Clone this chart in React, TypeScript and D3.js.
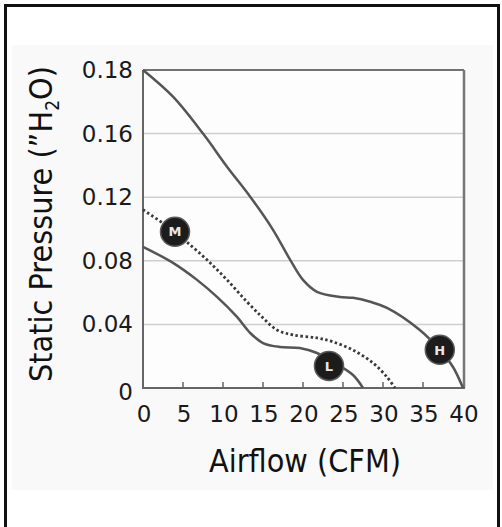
import React, { useEffect, useRef } from 'react';
import * as d3 from 'd3';

// fan curves, airflow (CFM) vs static pressure ("H2O)
const highX = [0, 3.75, 7.5, 10.5, 13.4, 16.25, 18.4, 20, 21.75, 24.6, 26.25, 28.4, 30.5, 34.6, 37.1, 38.75, 40];
const highY = [0.18, 0.1716, 0.16, 0.1392, 0.1203, 0.0995, 0.0806, 0.068, 0.0605, 0.0573, 0.0567, 0.0542, 0.0504, 0.0365, 0.024, 0.0132, 0];

const medX = [0, 4, 5.6, 8, 10.5, 13, 15, 16.75, 18.75, 21.75, 23.75, 26.25, 28.75, 30.5, 31.5];
const medY = [0.1121, 0.0983, 0.0913, 0.0806, 0.068, 0.0542, 0.0441, 0.0365, 0.0334, 0.0315, 0.029, 0.0239, 0.0157, 0.0069, 0];

const lowX = [0, 3.75, 6.75, 9.25, 11.75, 13.4, 15, 17.1, 19.6, 21.75, 23.75, 26.25, 27.5];
const lowY = [0.0888, 0.0787, 0.068, 0.0573, 0.0447, 0.0346, 0.0283, 0.0258, 0.0252, 0.022, 0.0164, 0.0082, 0];

const badgeLabels = ['M', 'L', 'H'];
const badgeX = [4, 23.25, 37.1];
const badgeY = [0.0983, 0.0139, 0.024];

const xTicks = [0, 5, 10, 15, 20, 25, 30, 35, 40];
const yTicks = [0, 0.04, 0.08, 0.12, 0.16, 0.18];
const yTickLabels = ['0', '0.04', '0.08', '0.12', '0.16', '0.18'];

const W = 502;
const H = 527;

export default function App() {
    const svgRef = useRef<SVGSVGElement>(null);

    useEffect(() => {
        const svg = d3.select(svgRef.current);
        svg.selectAll('*').remove();

        const left = 143, right = 463, top = 70, bottom = 388;

        // outer frame + panel
        svg.append('rect')
            .attr('x', 12).attr('y', 45).attr('width', 481).attr('height', 445)
            .attr('fill', '#f9f9f9');
        svg.append('path')
            .attr('d', `M5.5,${H + 5}V5.5H498.5V${H + 5}`)
            .attr('fill', 'none').attr('stroke', '#111').attr('stroke-width', 3);

        const x = d3.scaleLinear().domain([0, 40]).range([left, right]);
        // y ticks are evenly spaced although the last step is only 0.02
        const step = (bottom - top) / (yTicks.length - 1);
        const y = d3.scaleLinear()
            .domain(yTicks)
            .range(yTicks.map((_, i) => bottom - i * step));

        svg.append('rect')
            .attr('x', left).attr('y', top).attr('width', right - left).attr('height', bottom - top)
            .attr('fill', '#fdfdfd');

        // gridlines
        svg.append('g')
            .selectAll('line')
            .data(yTicks.slice(1, -1))
            .join('line')
            .attr('x1', left).attr('x2', right)
            .attr('y1', (d) => y(d)).attr('y2', (d) => y(d))
            .attr('stroke', '#cfcfcf').attr('stroke-width', 1.5);

        // frame
        svg.append('line').attr('x1', left).attr('x2', right + 1).attr('y1', top).attr('y2', top)
            .attr('stroke', '#444').attr('stroke-width', 1.5);
        svg.append('line').attr('x1', right + 1).attr('x2', right + 1).attr('y1', top).attr('y2', bottom)
            .attr('stroke', '#777').attr('stroke-width', 2.5);
        svg.append('line').attr('x1', left).attr('x2', left).attr('y1', top).attr('y2', bottom + 1)
            .attr('stroke', '#666').attr('stroke-width', 2);
        svg.append('line').attr('x1', left).attr('x2', right + 2).attr('y1', bottom).attr('y2', bottom)
            .attr('stroke', '#666').attr('stroke-width', 2);

        // inner ticks on x axis
        svg.append('g')
            .selectAll('line')
            .data(xTicks.slice(1, -1))
            .join('line')
            .attr('x1', (d) => x(d)).attr('x2', (d) => x(d))
            .attr('y1', bottom).attr('y2', bottom - 6)
            .attr('stroke', '#666').attr('stroke-width', 1.5);

        // tick labels
        svg.append('g')
            .selectAll('text')
            .data(xTicks)
            .join('text')
            .attr('x', (d) => x(d) + 1)
            .attr('y', bottom + 34)
            .attr('text-anchor', 'middle')
            .style('font-family', 'DejaVu Sans')
            .style('font-size', '23px')
            .attr('fill', '#1a1a1a')
            .text((d) => d);

        svg.append('g')
            .selectAll('text')
            .data(yTicks)
            .join('text')
            .attr('x', 133)
            .attr('y', (d, i) => y(d) + (i === 0 ? 12 : 8))
            .attr('text-anchor', 'end')
            .style('font-family', 'DejaVu Sans')
            .style('font-size', '23px')
            .attr('fill', '#1a1a1a')
            .text((d, i) => yTickLabels[i]);

        // curves
        const line = d3.line<[number, number]>()
            .x((d) => x(d[0]))
            .y((d) => y(d[1]))
            .curve(d3.curveCatmullRom.alpha(0.5));

        const series = [
            { xs: highX, ys: highY, dash: null },
            { xs: medX, ys: medY, dash: '2.5,2.5' },
            { xs: lowX, ys: lowY, dash: null },
        ];
        series.forEach((s) => {
            svg.append('path')
                .datum(s.xs.map((v, i) => [v, s.ys[i]] as [number, number]))
                .attr('d', line)
                .attr('fill', 'none')
                .attr('stroke', s.dash ? '#3a3a3a' : '#555')
                .attr('stroke-width', s.dash ? 2.8 : 2.5)
                .attr('stroke-dasharray', s.dash);
        });

        // curve badges
        const badges = svg.append('g')
            .selectAll('g')
            .data(badgeLabels)
            .join('g')
            .attr('transform', (d, i) => `translate(${x(badgeX[i])},${y(badgeY[i])})`);
        badges.append('circle')
            .attr('r', 14.5)
            .attr('fill', '#1c1c1c')
            .attr('stroke', '#5a5a5a')
            .attr('stroke-width', 1.5);
        badges.append('text')
            .attr('text-anchor', 'middle')
            .attr('dy', '0.36em')
            .style('font-family', 'DejaVu Sans')
            .style('font-weight', 'bold')
            .style('font-size', '13px')
            .attr('fill', '#e8e8e8')
            .text((d) => d);

        // axis titles
        svg.append('text')
            .attr('x', 305)
            .attr('y', 472)
            .attr('text-anchor', 'middle')
            .style('font-family', 'DejaVu Sans Condensed')
            .style('font-size', '32px')
            .attr('fill', '#111')
            .text('Airflow (CFM)');

        const yTitle = svg.append('text')
            .attr('transform', 'translate(52,224) rotate(-90)')
            .attr('text-anchor', 'middle')
            .style('font-family', 'DejaVu Sans Condensed')
            .style('font-size', '32px')
            .attr('fill', '#111');
        yTitle.append('tspan').text('Static Pressure (”H');
        yTitle.append('tspan').attr('dy', 7).style('font-size', '19px').text('2');
        yTitle.append('tspan').attr('dy', -7).text('O)');
    }, []);

    return (
        <svg
            ref={svgRef}
            width={W}
            height={H}
            style={{ position: 'absolute', left: 0, top: 0, background: '#fff' }}
        />
    );
}
